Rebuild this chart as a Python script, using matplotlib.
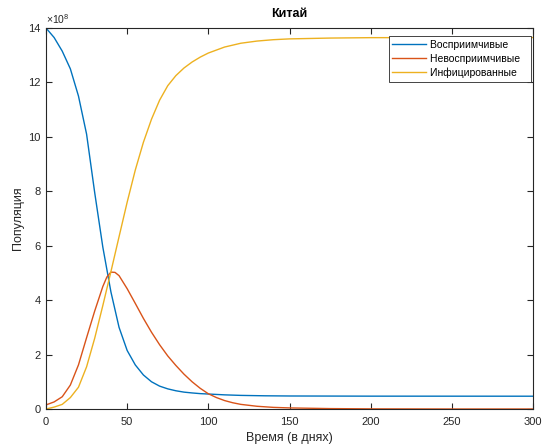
import matplotlib
matplotlib.use("Agg")
import matplotlib.pyplot as plt
import numpy as np

plt.rcParams['font.family'] = ['Liberation Sans', 'DejaVu Sans']
plt.rcParams['mathtext.fontset'] = 'custom'
plt.rcParams['mathtext.rm'] = 'Liberation Sans'
plt.rcParams['mathtext.it'] = 'Liberation Sans'

# Populations are given in units of 1e8 people
days_s = [0, 5, 10, 15, 20, 25, 30, 35, 40, 45, 50, 55, 60, 65, 70, 75, 80,
          85, 90, 95, 100, 110, 120, 135, 150, 200, 300]
susceptible = [14.00, 13.65, 13.15, 12.50, 11.50, 10.10, 7.95, 5.95, 4.30, 3.00,
               2.15, 1.62, 1.25, 1.00, 0.84, 0.74, 0.67, 0.62, 0.59, 0.565,
               0.55, 0.52, 0.50, 0.485, 0.478, 0.472, 0.47]

days_i = [0, 5, 10, 15, 20, 25, 30, 35, 37.5, 40, 42.5, 45, 50, 55, 60, 65, 70,
          75, 80, 85, 90, 95, 100, 105, 110, 115, 120, 130, 140, 150, 175, 200,
          250, 300]
immune = [0.15, 0.26, 0.45, 0.88, 1.62, 2.62, 3.60, 4.50, 4.85, 5.03, 5.02,
          4.90, 4.42, 3.88, 3.33, 2.82, 2.36, 1.95, 1.60, 1.28, 1.00, 0.76,
          0.56, 0.42, 0.31, 0.23, 0.17, 0.10, 0.06, 0.04, 0.015, 0.005, 0.0,
          0.0]

days_r = [0, 5, 10, 15, 20, 25, 30, 35, 40, 45, 50, 55, 60, 65, 70, 75, 80, 85,
          90, 95, 100, 110, 120, 130, 140, 150, 175, 200, 300]
infected = [0.0, 0.07, 0.17, 0.42, 0.80, 1.55, 2.60, 3.80, 5.05, 6.33, 7.60,
            8.78, 9.80, 10.65, 11.35, 11.88, 12.25, 12.53, 12.75, 12.93, 13.08,
            13.30, 13.44, 13.52, 13.57, 13.60, 13.63, 13.645, 13.65]

labels = ['Восприимчивые', 'Невосприимчивые', 'Инфицированные']
colors = ['#0072BD', '#D95319', '#EDB120']

fig = plt.figure(figsize=(5.42, 4.47), dpi=100)
ax = fig.add_axes([46 / 542, 38 / 447, 487 / 542, 381 / 447])

lines = []
lines += ax.plot(days_s, susceptible, color=colors[0], lw=1.0)
lines += ax.plot(days_i, immune, color=colors[1], lw=1.0)
lines += ax.plot(days_r, infected, color=colors[2], lw=1.0)

ax.set_xlim(0, 300)
ax.set_ylim(0, 14)
ax.set_xticks(np.arange(0, 301, 50))
ax.set_yticks(np.arange(0, 15, 2))

axis_color = '#262626'
for sp in ax.spines.values():
    sp.set_color(axis_color)
    sp.set_linewidth(0.8)
ax.tick_params(direction='in', top=True, right=True, length=4, width=0.8,
               colors=axis_color, labelsize=8, labelcolor='#262626')
ax.tick_params(axis='x', pad=6)
ax.tick_params(axis='y', pad=4)

# exponent marker above the y axis
ax.text(0.0, 1.006, r'$\times\mathregular{10^{8}}$', transform=ax.transAxes,
        ha='left', va='bottom', fontsize=7.5, color='#262626')

ax.set_title('Китай', fontsize=9, fontweight='bold', color='#000000', pad=8)
ax.set_xlabel('Время (в днях)', fontsize=9, color='#262626', labelpad=3)
ax.set_ylabel('Популяция', fontsize=9, color='#262626', labelpad=3)

# legend text gets a little trailing room on the right, as in MATLAB legends
leg = ax.legend(lines, [lab + '\u2002\u2009' for lab in labels],
                loc='upper right', bbox_to_anchor=(0.996, 0.979),
                fontsize=7.5, frameon=True, fancybox=False,
                edgecolor='#262626', framealpha=1, handlelength=3.2,
                borderaxespad=0.0, borderpad=0.35, labelspacing=0.38,
                handletextpad=0.4)
leg.get_frame().set_linewidth(0.6)

fig.savefig('out.png', dpi=100)
